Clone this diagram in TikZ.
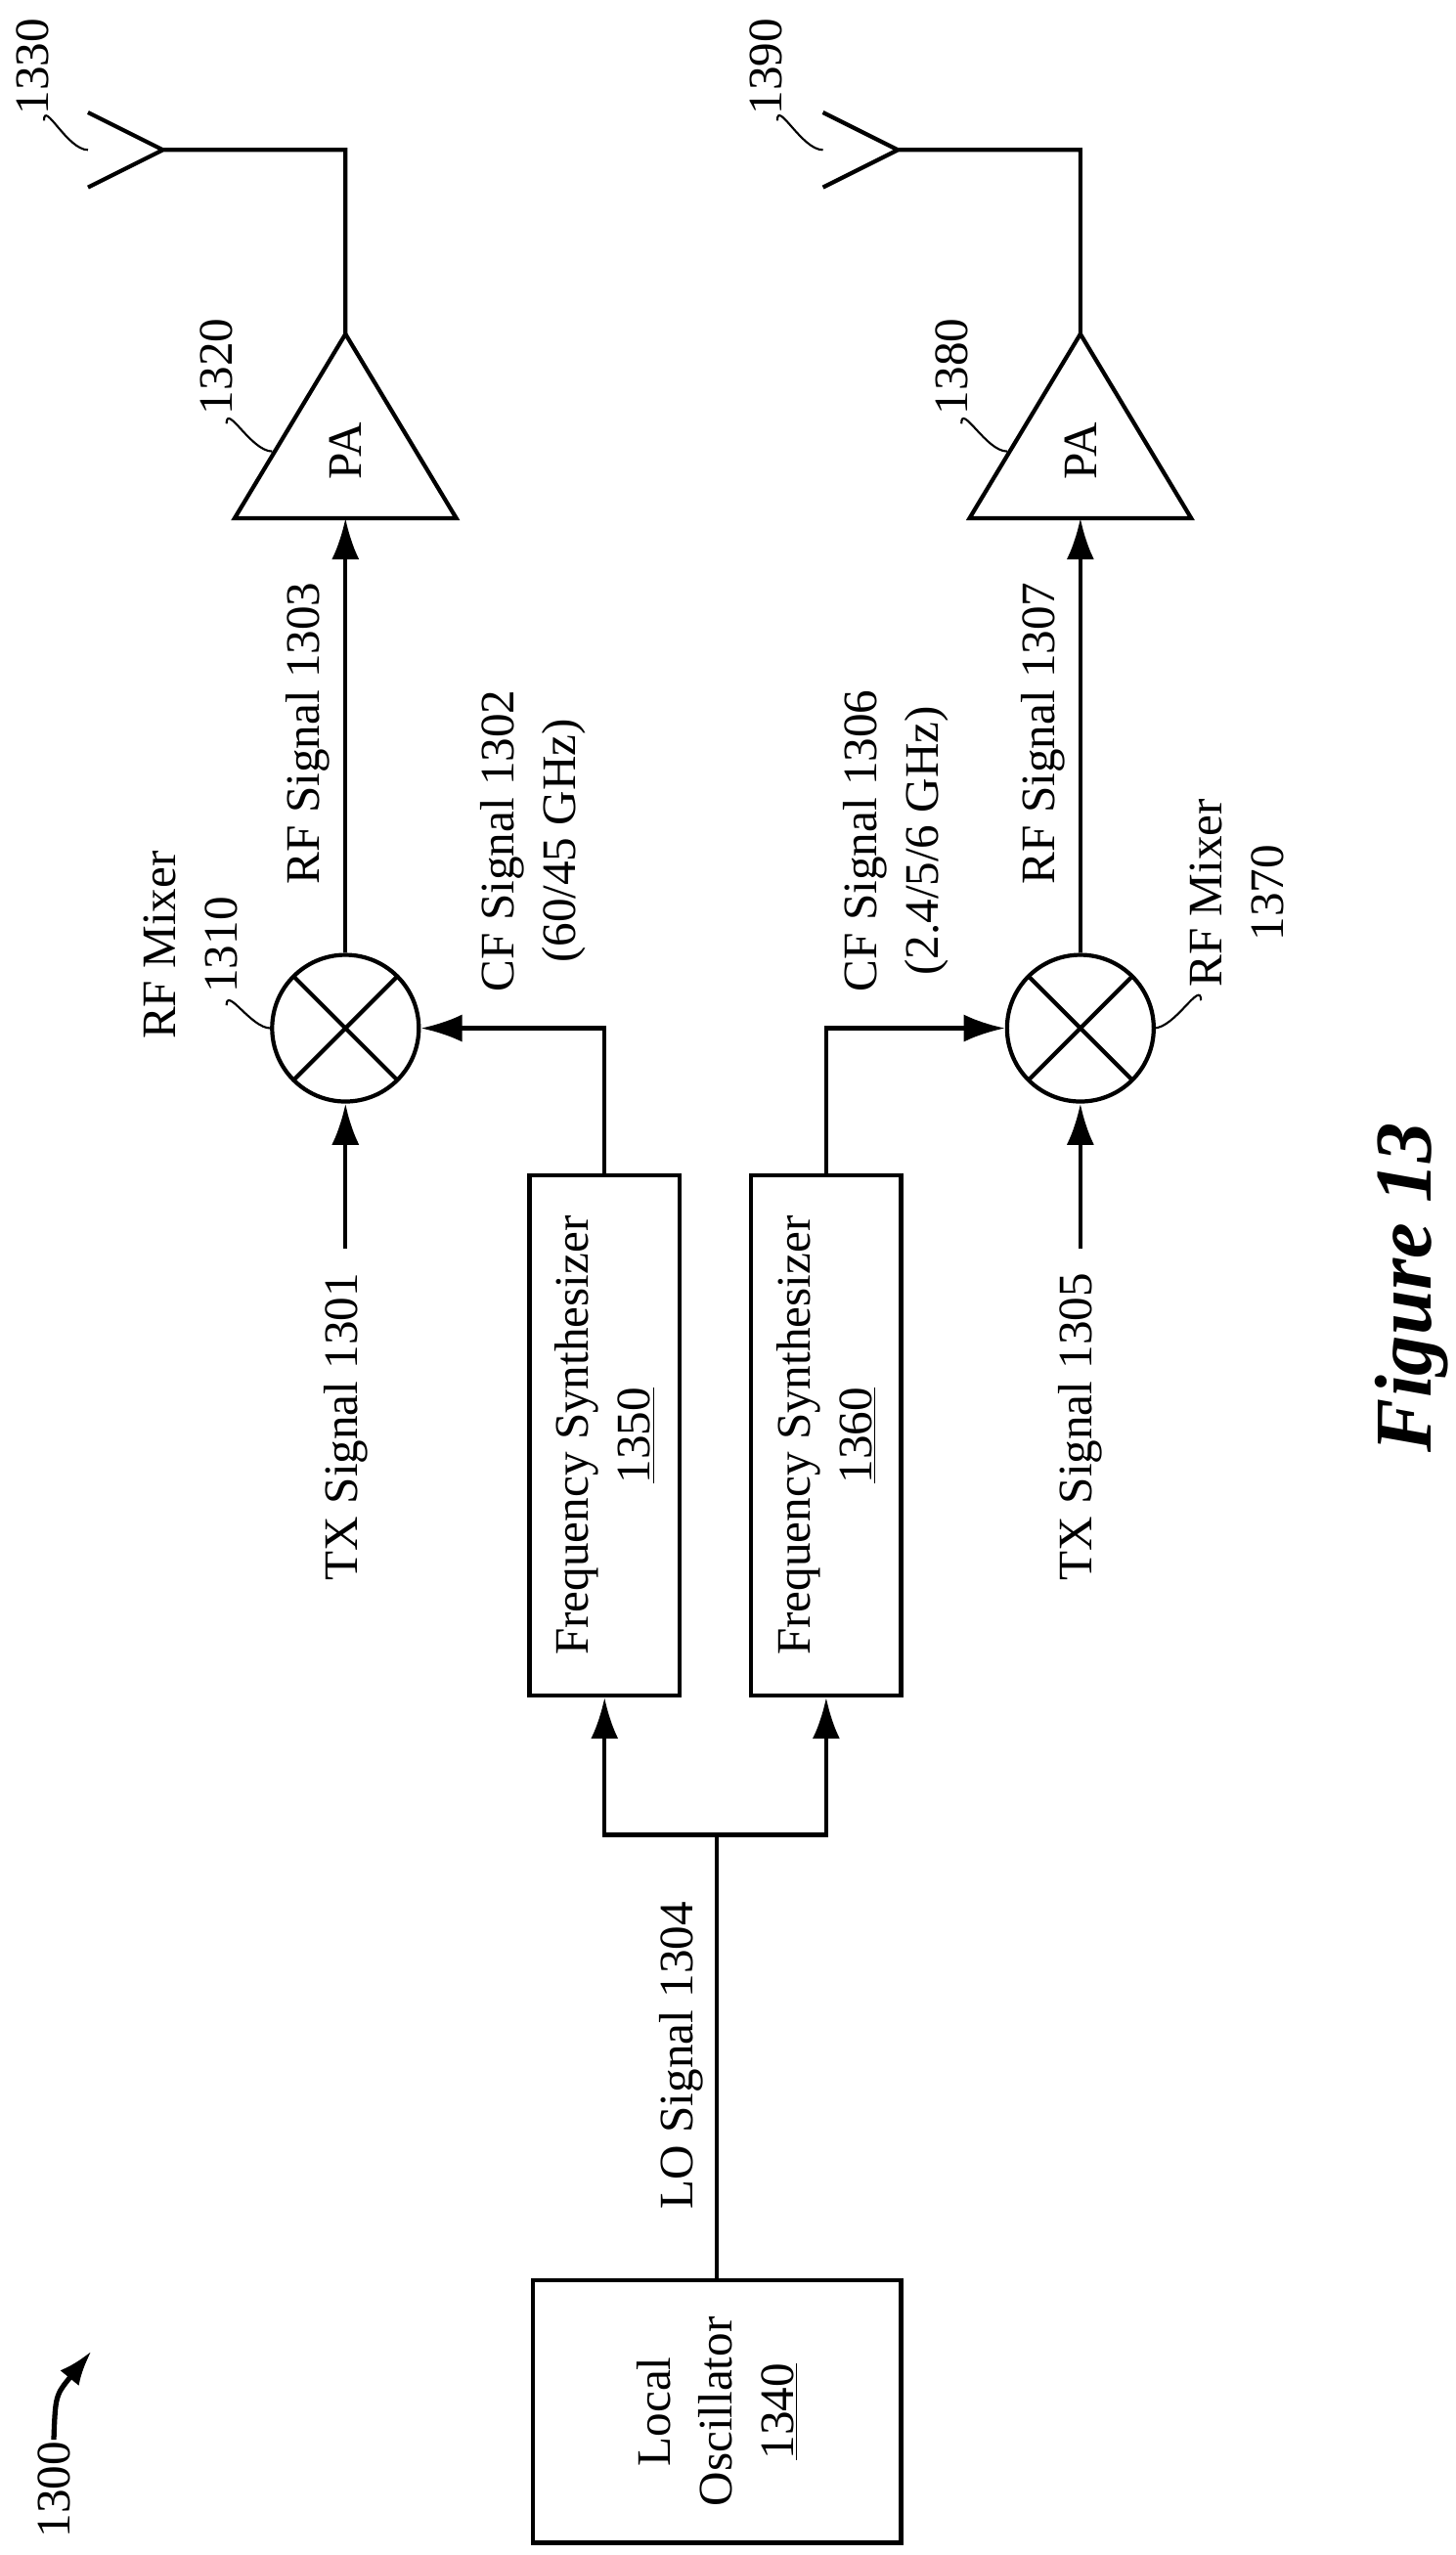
\documentclass[tikz,border=0pt]{standalone}
\usepackage{fontspec}
\setmainfont{Liberation Serif}
\usetikzlibrary{arrows.meta}
\newcommand{\pxu}{0.03335cm}
\begin{document}
\begin{tikzpicture}[x=0.03335cm,y=-0.03335cm,line width=2.4pt,
    every node/.style={font=\fontsize{28}{36}\selectfont,rotate=90},
    box/.style={draw,rectangle,align=center,inner sep=0pt},
    mix/.style={draw,circle,minimum size=90*\pxu,inner sep=0pt,
        path picture={\draw (path picture bounding box.north west) -- (path picture bounding box.south east)
        (path picture bounding box.north east) -- (path picture bounding box.south west);}},
    lbl/.style={inner sep=0pt},
    sig/.style={-{Latex[length=24pt,width=16pt]}},
    lead/.style={line width=1.2pt}]
  \useasboundingbox (0,0) rectangle (893,1568);

  % the blocks (rotated: east is up, west is down, north is left, south is right)
  \node[box,minimum width=161*\pxu,minimum height=226*\pxu] (lo) at (440,1480)
      {Local\\Oscillator\\\underline{1340}};
  \node[box,minimum width=319*\pxu,minimum height=92*\pxu] (fs1) at (371,881)
      {Frequency Synthesizer\\\underline{1350}};
  \node[box,minimum width=319*\pxu,minimum height=92*\pxu] (fs2) at (507,881)
      {Frequency Synthesizer\\\underline{1360}};
  \node[mix] (mx1) at (212,631) {};
  \node[mix] (mx2) at (663,631) {};

  % amplifiers and antennas
  \coordinate (pa1) at (212,205); \coordinate (pa1b) at (212,318);
  \coordinate (pa2) at (663,205); \coordinate (pa2b) at (663,318);
  \draw (pa1) -- (280,318) -- (144,318) -- cycle;
  \draw (pa2) -- (731,318) -- (595,318) -- cycle;
  \node (pa1t) at (212,277) {PA};
  \node (pa2t) at (663,277) {PA};
  \coordinate (ant1) at (100,92); \coordinate (ant2) at (551,92);
  \draw (pa1) -- (212,92) -- (ant1) (54,69) -- (ant1) -- (54,115);
  \draw (pa2) -- (663,92) -- (ant2) (505,69) -- (ant2) -- (505,115);

  % the signals
  \coordinate (lo1) at (440,1126);
  \draw (lo.east) -- (lo1);
  \draw[sig] (lo1) -| (fs1.west);
  \draw[sig] (lo1) -| (fs2.west);
  \draw[sig] (fs1.east) |- (mx1.south);
  \draw[sig] (fs2.east) |- (mx2.north);
  \draw[sig] (mx1.east) -- (pa1b);
  \draw[sig] (mx2.east) -- (pa2b);
  \node[lbl,anchor=east] (tx1) at (212,780) {TX Signal 1301};
  \node[lbl,anchor=east] (tx2) at (663,780) {TX Signal 1305};
  \draw[sig,shorten <=14*\pxu] (tx1.east) -- (mx1.west);
  \draw[sig,shorten <=14*\pxu] (tx2.east) -- (mx2.west);

  % the texts
  \node[lbl,anchor=east] at (418,1166) {LO Signal 1304};
  \node[lbl] at (189,450) {RF Signal 1303};
  \node[lbl] at (640,450) {RF Signal 1307};
  \node[lbl,align=center] at (327,516) {CF Signal 1302\\(60/45 GHz)};
  \node[lbl,align=center] at (550,516) {CF Signal 1306\\(2.4/5/6 GHz)};
  \node[lbl,align=center] at (117,580) {RF Mixer\\1310};
  \node[lbl,align=center] at (759,548) {RF Mixer\\1370};
  \node[lbl] (n1320) at (133,225) {1320};
  \node[lbl] (n1380) at (584,225) {1380};
  \node[lbl] (n1330) at (20,41) {1330};
  \node[lbl] (n1390) at (470,41) {1390};
  \node[lbl] (n1300) at (33,1528) {1300};
  \node[lbl,font=\fontsize{47}{50}\selectfont\bfseries\itshape] at (866,790) {Figure 13};

  \draw[lead] (139,260) to[out=90,in=180] (167,277);
  \draw[lead] (590,260) to[out=90,in=180] (618,277);
  \draw[lead] (27,74) to[out=90,in=180] (54,92);
  \draw[lead] (477,74) to[out=90,in=180] (505,92);
  \draw[lead] (139,617) to[out=90,in=180] (166,631);
  \draw[lead] (737,614) to[out=90,in=0] (708,631);
  \draw[line width=3pt,-{Latex[length=20pt,width=14pt]}] (n1300.east) .. controls (34,1470) .. (56,1443);
\end{tikzpicture}
\end{document}
